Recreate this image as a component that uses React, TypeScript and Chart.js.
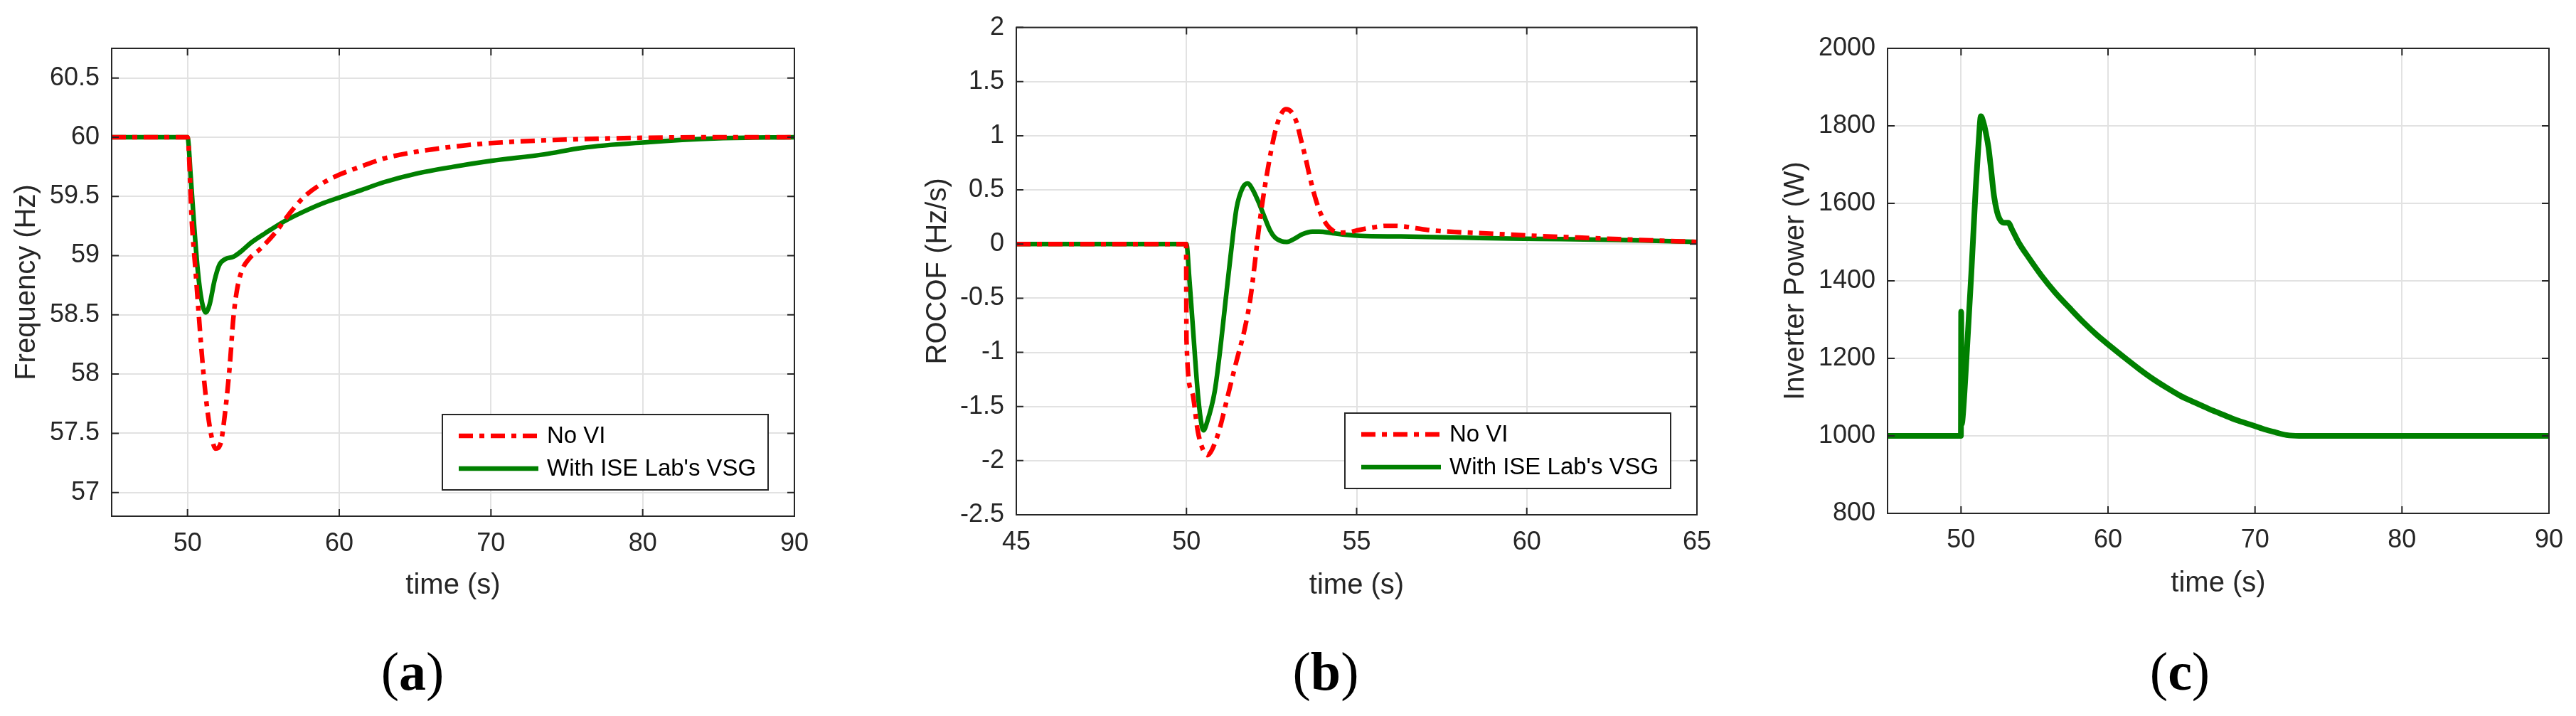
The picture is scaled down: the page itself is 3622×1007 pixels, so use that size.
import { useEffect, useRef } from 'react';
import { Chart, registerables } from 'chart.js';

Chart.register(...registerables);

// (a) frequency response
const freqNoViTime = [45, 50, 50.29, 50.53, 50.76, 51.0, 51.23, 51.54, 51.85, 52.17, 52.48, 52.79, 53.02, 53.26, 53.57, 54.04, 54.82, 55.76, 56.69, 57.63, 58.88, 60.13, 61.38, 62.94, 65, 67.5, 70, 75, 80, 85, 90];
const freqNoVi = [60, 60, 59.27, 58.87, 58.47, 58.08, 57.78, 57.5, 57.37, 57.41, 57.68, 58.08, 58.47, 58.71, 58.87, 58.97, 59.06, 59.19, 59.35, 59.49, 59.61, 59.69, 59.75, 59.82, 59.875, 59.92, 59.95, 59.98, 59.995, 60, 60];
const freqVsgTime = [45, 50, 50.21, 50.45, 50.68, 50.92, 51.2, 51.46, 51.78, 52.09, 52.48, 53.02, 53.57, 54.2, 55.13, 56.38, 57.63, 58.88, 60, 61.38, 62.94, 65, 67.5, 70, 73.5, 76, 80, 85, 90];
const freqVsg = [60, 60, 59.67, 59.23, 58.87, 58.63, 58.52, 58.59, 58.79, 58.92, 58.97, 58.99, 59.04, 59.11, 59.19, 59.29, 59.37, 59.44, 59.49, 59.55, 59.62, 59.69, 59.75, 59.8, 59.855, 59.91, 59.955, 59.99, 60];
const freqTicks = [57, 57.5, 58, 58.5, 59, 59.5, 60, 60.5];

// (b) ROCOF
const rocofNoViTime = [45, 49.99, 50.0, 50.15, 50.34, 50.5, 50.62, 50.75, 50.98, 51.2, 51.47, 51.7, 51.87, 52.0, 52.11, 52.23, 52.35, 52.48, 52.6, 52.75, 52.92, 53.08, 53.24, 53.36, 53.48, 53.64, 53.8, 53.96, 54.12, 54.3, 54.52, 54.8, 55.0, 55.4, 55.9, 56.3, 57.1, 58.0, 58.7, 60.3, 61.5, 62.7, 65];
const rocofNoVi = [0, 0, -0.88, -1.35, -1.74, -1.91, -1.95, -1.9, -1.7, -1.42, -1.08, -0.8, -0.52, -0.2, 0.1, 0.38, 0.62, 0.85, 1.03, 1.18, 1.245, 1.22, 1.12, 0.97, 0.82, 0.6, 0.41, 0.27, 0.18, 0.125, 0.105, 0.11, 0.125, 0.15, 0.168, 0.165, 0.13, 0.11, 0.1, 0.075, 0.06, 0.045, 0.02];
const rocofVsgTime = [45, 50.0, 50.08, 50.18, 50.34, 50.45, 50.5, 50.6, 50.83, 51.0, 51.15, 51.3, 51.47, 51.65, 51.8, 51.95, 52.1, 52.28, 52.45, 52.6, 52.8, 52.95, 53.15, 53.4, 53.7, 53.9, 54.3, 54.7, 55.1, 56.3, 58, 59.5, 61, 62.7, 65];
const rocofVsg = [0, 0, -0.3, -0.73, -1.4, -1.68, -1.72, -1.65, -1.36, -0.95, -0.52, -0.1, 0.33, 0.52, 0.56, 0.5, 0.4, 0.26, 0.13, 0.06, 0.025, 0.02, 0.045, 0.09, 0.115, 0.115, 0.1, 0.085, 0.075, 0.07, 0.06, 0.05, 0.045, 0.037, 0.02];
const rocofTicks = [-2.5, -2, -1.5, -1, -0.5, 0, 0.5, 1, 1.5, 2];

// (c) inverter power
const powerTime = [45, 49.99, 50.01, 50.05, 50.12, 50.4, 50.7, 51.0, 51.2, 51.35, 51.5, 51.7, 51.86, 52.05, 52.24, 52.45, 52.62, 52.9, 53.2, 53.5, 53.95, 54.6, 55.46, 56.4, 57.36, 58.3, 59.25, 60.2, 61.15, 62.1, 63.05, 64.0, 64.94, 65.9, 66.84, 67.8, 68.73, 69.7, 70.63, 71.4, 72.15, 73.0, 75, 80, 85, 90];
const power = [1000, 1000, 1320, 1030, 1050, 1220, 1420, 1640, 1760, 1825, 1812, 1780, 1746, 1685, 1620, 1578, 1560, 1550, 1550, 1530, 1497, 1460, 1414, 1370, 1331, 1294, 1260, 1230, 1201, 1173, 1147, 1124, 1103, 1086, 1070, 1055, 1041, 1029, 1017, 1009, 1002, 1000, 1000, 1000, 1000, 1000];
const powerTicks = [800, 1000, 1200, 1400, 1600, 1800, 2000];

const timeTicksLong = [50, 60, 70, 80, 90];
const timeTicksShort = [45, 50, 55, 60, 65];
const seriesLabels = ['No VI', "With ISE Lab's VSG"];

const SANS = '"Liberation Sans", Arial, Helvetica, sans-serif';
const AXIS_COLOR = '#262626';
const RED = '#ff0000';
const GREEN = '#008000';
const RED_DASH = [20, 9, 7, 9];
const TICK_LEN = 10;

const pairs = (t: number[], v: number[]) => t.map((x, i) => ({ x, y: v[i] }));

// MATLAB-style box with inward tick marks on all four sides
const matlabFrame = {
  id: 'matlabFrame',
  afterDatasetsDraw(chart: any) {
    const { ctx, chartArea: a, scales } = chart;
    ctx.save();
    ctx.strokeStyle = AXIS_COLOR;
    ctx.lineWidth = 2;
    ctx.beginPath();
    for (const t of scales.x.ticks) {
      const px = scales.x.getPixelForValue(t.value);
      ctx.moveTo(px, a.bottom);
      ctx.lineTo(px, a.bottom - TICK_LEN);
      ctx.moveTo(px, a.top);
      ctx.lineTo(px, a.top + TICK_LEN);
    }
    for (const t of scales.y.ticks) {
      const py = scales.y.getPixelForValue(t.value);
      ctx.moveTo(a.left, py);
      ctx.lineTo(a.left + TICK_LEN, py);
      ctx.moveTo(a.right, py);
      ctx.lineTo(a.right - TICK_LEN, py);
    }
    ctx.stroke();
    ctx.strokeRect(a.left, a.top, a.right - a.left, a.bottom - a.top);
    ctx.restore();
  },
};

// legend box inside the lower right corner of the axes
const boxLegend = {
  id: 'boxLegend',
  afterDraw(chart: any, _args: any, opts: any) {
    if (!opts || !opts.display) return;
    const { ctx, chartArea: a } = chart;
    const w = 458;
    const h = 106;
    const right = a.right - 37;
    const bottom = a.bottom - 37;
    const left = right - w;
    const top = bottom - h;
    ctx.save();
    ctx.fillStyle = '#ffffff';
    ctx.fillRect(left, top, w, h);
    ctx.strokeStyle = AXIS_COLOR;
    ctx.lineWidth = 2;
    ctx.strokeRect(left, top, w, h);
    chart.data.datasets.forEach((ds: any, i: number) => {
      const y = top + 30 + i * 46;
      ctx.beginPath();
      ctx.strokeStyle = ds.borderColor;
      ctx.lineWidth = ds.borderWidth;
      ctx.setLineDash(ds.borderDash || []);
      ctx.moveTo(left + 23, y);
      ctx.lineTo(left + 135, y);
      ctx.stroke();
      ctx.setLineDash([]);
      ctx.fillStyle = '#000000';
      ctx.font = `33px ${SANS}`;
      ctx.textAlign = 'left';
      ctx.textBaseline = 'middle';
      ctx.fillText(ds.label, left + 147, y + 1);
    });
    ctx.restore();
  },
};

interface PanelProps {
  left: number;
  width: number;
  height: number;
  area: { l: number; t: number; r: number; b: number };
  datasets: any[];
  xMin: number;
  xMax: number;
  xTicks: number[];
  yMin: number;
  yMax: number;
  yTicks: number[];
  yTitle: string;
  yTitleX: number;
  xTitleY: number;
  xTickY: number;
  legend: boolean;
}

function Panel(p: PanelProps) {
  const chartRef = useRef<HTMLCanvasElement>(null);

  useEffect(() => {
    if (!chartRef.current) return;
    const ctx = chartRef.current.getContext('2d');
    if (!ctx) return;

    const chart = new Chart(ctx, {
      type: 'line',
      data: { datasets: p.datasets },
      plugins: [matlabFrame, boxLegend],
      options: {
        responsive: false,
        animation: false,
        devicePixelRatio: 1,
        layout: {
          padding: { left: 0, top: p.area.t, right: p.width - p.area.r, bottom: 0 },
        },
        elements: { point: { radius: 0 } },
        plugins: {
          legend: { display: false },
          tooltip: { enabled: false },
          boxLegend: { display: p.legend },
        } as any,
        scales: {
          x: {
            type: 'linear',
            min: p.xMin,
            max: p.xMax,
            afterBuildTicks: (s: any) => {
              s.ticks = p.xTicks.map(v => ({ value: v }));
            },
            afterFit: (s: any) => {
              s.height = p.height - p.area.b;
            },
            grid: { color: '#e2e2e2', lineWidth: 2, drawTicks: false },
            border: { display: false },
            ticks: {
              autoSkip: false,
              maxRotation: 0,
              padding: p.xTickY - p.area.b - 21.6,
              color: AXIS_COLOR,
              font: { family: SANS, size: 36 },
              callback: (v: any) => String(v),
            },
            title: {
              display: true,
              text: 'time (s)',
              color: AXIS_COLOR,
              font: { family: SANS, size: 40 },
              padding: { top: 0, bottom: p.height - 24 - p.xTitleY },
            },
          },
          y: {
            type: 'linear',
            min: p.yMin,
            max: p.yMax,
            afterBuildTicks: (s: any) => {
              s.ticks = p.yTicks.map(v => ({ value: v }));
            },
            afterFit: (s: any) => {
              s.width = p.area.l;
            },
            grid: { color: '#e2e2e2', lineWidth: 2, drawTicks: false },
            border: { display: false },
            ticks: {
              autoSkip: false,
              padding: 17,
              color: AXIS_COLOR,
              font: { family: SANS, size: 36 },
              callback: (v: any) => String(v),
            },
            title: {
              display: true,
              text: p.yTitle,
              color: AXIS_COLOR,
              font: { family: SANS, size: 40 },
              padding: { top: p.yTitleX - 24, bottom: 0 },
            },
          },
        },
      },
    });

    return () => {
      chart.destroy();
    };
  }, [p]);

  return (
    <canvas
      ref={chartRef}
      width={p.width}
      height={p.height}
      style={{ position: 'absolute', left: p.left, top: 0, width: p.width, height: p.height }}
    />
  );
}

function SubLabel({ center, letter }: { center: number; letter: string }) {
  return (
    <div
      style={{
        position: 'absolute',
        left: center - 100,
        top: 899,
        width: 200,
        height: 90,
        lineHeight: '90px',
        textAlign: 'center',
        fontFamily: '"Liberation Serif", "Times New Roman", serif',
        fontSize: 76,
        color: '#000',
      }}
    >
      (<b>{letter}</b>)
    </div>
  );
}

const lineBase = { pointRadius: 0, cubicInterpolationMode: 'monotone', borderCapStyle: 'butt', fill: false };

const panelA: PanelProps = {
  left: 0,
  width: 1170,
  height: 880,
  area: { l: 157, t: 68, r: 1117, b: 726 },
  datasets: [
    { ...lineBase, label: seriesLabels[0], data: pairs(freqNoViTime, freqNoVi), borderColor: RED, borderWidth: 6.5, borderDash: RED_DASH },
    { ...lineBase, label: seriesLabels[1], data: pairs(freqVsgTime, freqVsg), borderColor: GREEN, borderWidth: 6.5 },
  ],
  xMin: 45,
  xMax: 90,
  xTicks: timeTicksLong,
  yMin: 56.8,
  yMax: 60.75,
  yTicks: freqTicks,
  yTitle: 'Frequency (Hz)',
  yTitleX: 38,
  xTitleY: 824,
  xTickY: 765,
  legend: true,
};

const panelB: PanelProps = {
  left: 1190,
  width: 1240,
  height: 880,
  area: { l: 239, t: 30, r: 1196, b: 724 },
  datasets: [
    { ...lineBase, label: seriesLabels[0], data: pairs(rocofNoViTime, rocofNoVi), borderColor: RED, borderWidth: 6.5, borderDash: RED_DASH },
    { ...lineBase, label: seriesLabels[1], data: pairs(rocofVsgTime, rocofVsg), borderColor: GREEN, borderWidth: 6.5 },
  ],
  xMin: 45,
  xMax: 65,
  xTicks: timeTicksShort,
  yMin: -2.5,
  yMax: 2,
  yTicks: rocofTicks,
  yTitle: 'ROCOF (Hz/s)',
  yTitleX: 129,
  xTitleY: 824,
  xTickY: 763,
  legend: true,
};

const panelC: PanelProps = {
  left: 2440,
  width: 1182,
  height: 880,
  area: { l: 214, t: 68, r: 1144, b: 722 },
  datasets: [
    { ...lineBase, label: seriesLabels[1], data: pairs(powerTime, power), borderColor: GREEN, borderWidth: 8 },
  ],
  xMin: 45,
  xMax: 90,
  xTicks: timeTicksLong,
  yMin: 800,
  yMax: 2000,
  yTicks: powerTicks,
  yTitle: 'Inverter Power (W)',
  yTitleX: 85,
  xTitleY: 821,
  xTickY: 760,
  legend: false,
};

export default function App() {
  return (
    <div
      style={{
        position: 'absolute',
        left: 0,
        top: 0,
        width: 3622,
        height: 1007,
        overflow: 'hidden',
        background: '#ffffff',
      }}
    >
      <Panel {...panelA} />
      <Panel {...panelB} />
      <Panel {...panelC} />
      <SubLabel center={580} letter="a" />
      <SubLabel center={1864} letter="b" />
      <SubLabel center={3065} letter="c" />
    </div>
  );
}
